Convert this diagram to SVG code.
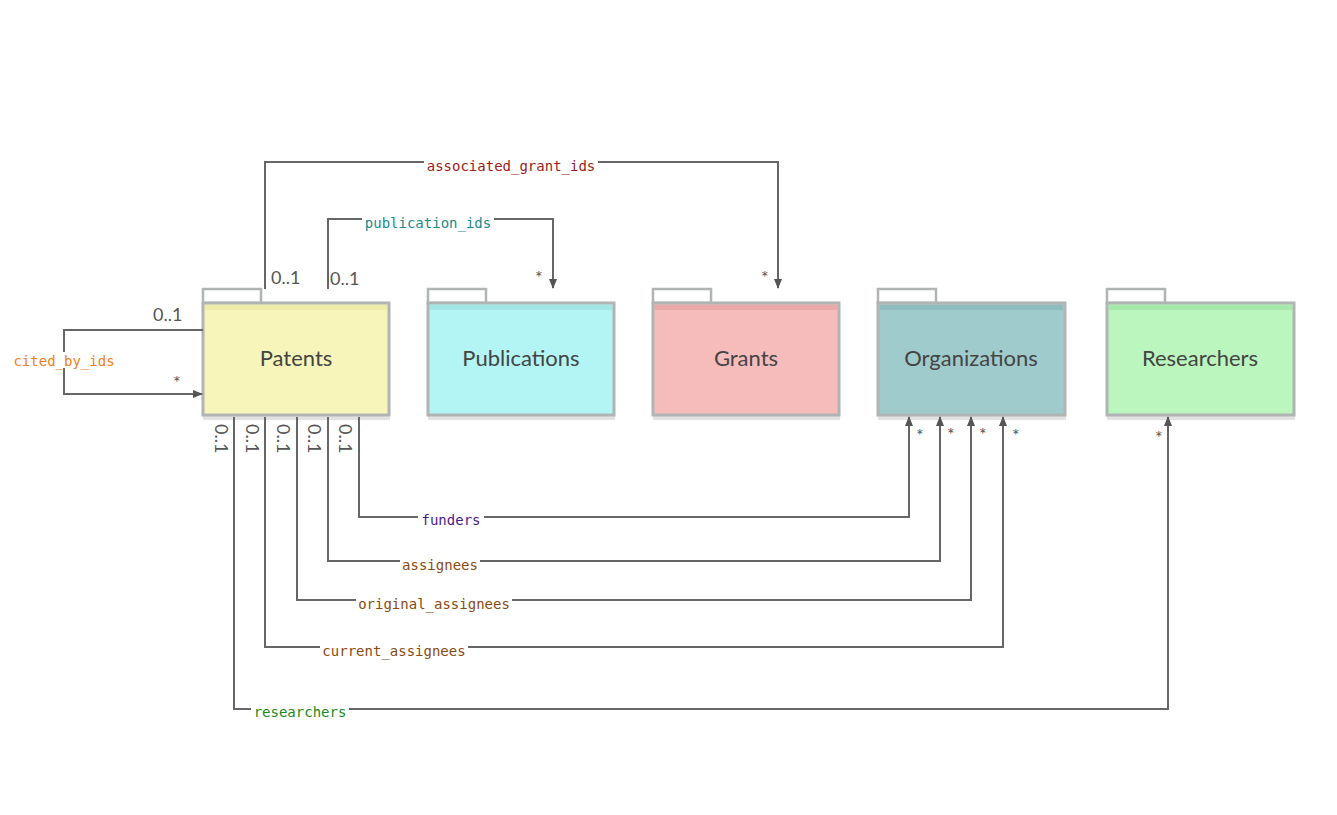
<svg xmlns="http://www.w3.org/2000/svg" width="1337" height="815" viewBox="0 0 1337 815">
<defs>
<marker id="ar" markerWidth="10" markerHeight="10" refX="9" refY="5" orient="auto" markerUnits="userSpaceOnUse"><path d="M0,1 L10,5 L0,9 Z" fill="#555"/></marker>
<style>
.box{stroke:#b0b4b4;stroke-width:3}
.tab{fill:#fff;stroke:#b0b4b4;stroke-width:2.5}
.nm{font-family:"Lato","Open Sans",sans-serif;font-size:22px;fill:#444;text-anchor:middle}
.ln{fill:none;stroke:#666;stroke-width:2}
.lb{font-family:"DejaVu Sans Mono","Liberation Mono",monospace;font-size:14px;text-anchor:middle}
.m{font-family:"Lato","Open Sans",sans-serif;font-size:18px;fill:#555}
.sh{fill:#e2e2e2}
</style>
</defs>
<rect width="1337" height="815" fill="#fff"/>
<g id="patents"><rect class="sh" x="203" y="415" width="187" height="5"/><rect class="tab" x="203" y="289" width="58" height="14"/><rect class="box" x="203" y="303" width="186" height="112" fill="#f7f5b9"/><rect x="205" y="305" width="182" height="5" fill="#eeeaa8"/><text class="nm" x="296" y="366">Patents</text></g>
<g id="publications"><rect class="sh" x="428" y="415" width="187" height="5"/><rect class="tab" x="428" y="289" width="58" height="14"/><rect class="box" x="428" y="303" width="186" height="112" fill="#b2f5f4"/><rect x="430" y="305" width="182" height="5" fill="#a3e6e5"/><text class="nm" x="521" y="366">Publications</text></g>
<g id="grants"><rect class="sh" x="653" y="415" width="187" height="5"/><rect class="tab" x="653" y="289" width="58" height="14"/><rect class="box" x="653" y="303" width="186" height="112" fill="#f6bcbc"/><rect x="655" y="305" width="182" height="5" fill="#eaa9a9"/><text class="nm" x="746" y="366">Grants</text></g>
<g id="organizations"><rect class="sh" x="878" y="415" width="188" height="5"/><rect class="tab" x="878" y="289" width="58" height="14"/><rect class="box" x="878" y="303" width="187" height="112" fill="#a0cbcc"/><rect x="880" y="305" width="183" height="5" fill="#8fbcbd"/><text class="nm" x="971" y="366">Organizations</text></g>
<g id="researchers"><rect class="sh" x="1107" y="415" width="188" height="5"/><rect class="tab" x="1107" y="289" width="58" height="14"/><rect class="box" x="1107" y="303" width="187" height="112" fill="#baf6bd"/><rect x="1109" y="305" width="183" height="5" fill="#a7e9ab"/><text class="nm" x="1200" y="366">Researchers</text></g>
<g id="connectors">
<path class="ln" d="M265,289 V162 H778 V288" marker-end="url(#ar)"/>
<path class="ln" d="M328,289 V219 H553 V288" marker-end="url(#ar)"/>
<path class="ln" d="M203,330 H64 V394 H202" marker-end="url(#ar)"/>
<path class="ln" d="M359,417 V517 H909 V417" marker-end="url(#ar)"/>
<path class="ln" d="M328,417 V561 H940 V417" marker-end="url(#ar)"/>
<path class="ln" d="M297,417 V600 H971 V417" marker-end="url(#ar)"/>
<path class="ln" d="M265,417 V647 H1003 V417" marker-end="url(#ar)"/>
<path class="ln" d="M234,417 V709 H1168 V417" marker-end="url(#ar)"/>
<rect x="424" y="155" width="174" height="16" fill="#fff"/><text class="lb" x="511" y="171" fill="#9b1b1b">associated_grant_ids</text>
<rect x="362" y="212" width="132" height="16" fill="#fff"/><text class="lb" x="428" y="228" fill="#1a8a8a">publication_ids</text>
<rect x="12" y="352" width="104" height="16" fill="#fff"/><text class="lb" x="64" y="366" fill="#f08020">cited_by_ids</text>
<rect x="418" y="510" width="66" height="16" fill="#fff"/><text class="lb" x="451" y="525" fill="#4a1a8a">funders</text>
<rect x="400" y="554" width="80" height="16" fill="#fff"/><text class="lb" x="440" y="570" fill="#8a4a10">assignees</text>
<rect x="356" y="593" width="156" height="16" fill="#fff"/><text class="lb" x="434" y="609" fill="#8a4a10">original_assignees</text>
<rect x="320" y="640" width="148" height="16" fill="#fff"/><text class="lb" x="394" y="656" fill="#8a4a10">current_assignees</text>
<rect x="251" y="702" width="98" height="16" fill="#fff"/><text class="lb" x="300" y="717" fill="#1a8a1a">researchers</text>
<text class="m" x="271" y="284">0..1</text><text class="m" x="330" y="285">0..1</text>
<text class="m" x="535" y="284">*</text><text class="m" x="761" y="284">*</text>
<text class="m" x="153" y="321">0..1</text><text class="m" x="173" y="389">*</text>
<text class="m" transform="translate(215,424) rotate(90)">0..1</text>
<text class="m" transform="translate(246,424) rotate(90)">0..1</text>
<text class="m" transform="translate(277,424) rotate(90)">0..1</text>
<text class="m" transform="translate(308,424) rotate(90)">0..1</text>
<text class="m" transform="translate(339,424) rotate(90)">0..1</text>
<text class="m" x="916" y="442">*</text><text class="m" x="947" y="441">*</text><text class="m" x="979" y="441">*</text><text class="m" x="1012" y="442">*</text><text class="m" x="1155" y="444">*</text>
</g>
</svg>
